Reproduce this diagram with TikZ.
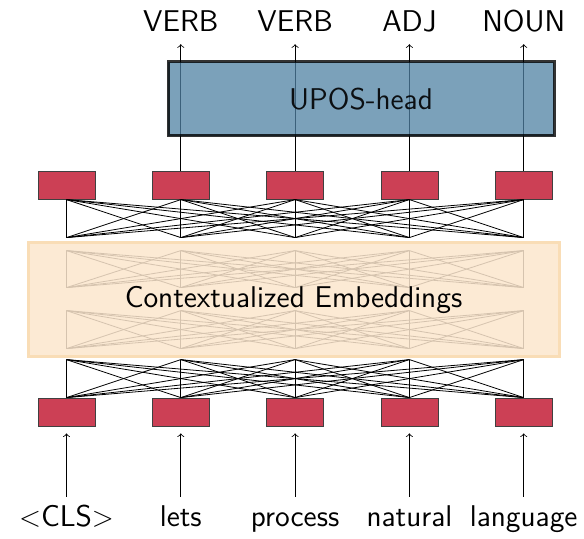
\documentclass[tikz,border=0pt]{standalone}
\usepackage{xcolor}
\usetikzlibrary{positioning}
\definecolor{embred}{RGB}{204,64,85}
\definecolor{headblue}{RGB}{79,129,163}
\definecolor{ctxpeach}{RGB}{251,230,205}
\definecolor{ctxedge}{RGB}{249,221,182}

\begin{document}
\begin{tikzpicture}[x=0.5pt, y=-0.5pt, node distance=28.25pt,
    font=\sffamily\fontsize{15}{18}\selectfont,
    vec/.style={draw=black!75, fill=embred, minimum width=28.5pt, minimum height=14pt, inner sep=0pt},
    word/.style={anchor=base, inner sep=0pt, text height=10pt, text depth=3pt},
    ctx/.style={draw=ctxedge, line width=1.5pt, fill=ctxpeach, fill opacity=0.85, text opacity=1,
                minimum width=265.5pt, minimum height=57pt},
    head/.style={draw=black, draw opacity=0.8, line width=1.5pt, fill=headblue, fill opacity=0.75,
                 text opacity=0.9, minimum width=193pt, minimum height=37pt}]
    \useasboundingbox (0,0) rectangle (584,539);

    % token vectors in and out
    \node[vec] (e1) at (66.5,412) {};
    \node[vec, right=of e1] (e2) {};
    \node[vec, right=of e2] (e3) {};
    \node[vec, right=of e3] (e4) {};
    \node[vec, right=of e4] (e5) {};
    \foreach \i in {1,...,5} {
        \node[vec, above=99pt of e\i] (h\i) {};
        % ends of the layers in between
        \coordinate (lo\i) at ([yshift=19pt]e\i.north);
        \coordinate (mb\i) at ([yshift=24.5pt]e\i.north);
        \coordinate (mc\i) at ([yshift=43.5pt]e\i.north);
        \coordinate (md\i) at ([yshift=-44pt]h\i.south);
        \coordinate (mf\i) at ([yshift=-25.5pt]h\i.south);
        \coordinate (up\i) at ([yshift=-19pt]h\i.south);
    }

    % hidden layers, faded under the box
    \foreach \i in {1,...,5}
        \foreach \j in {1,...,5} {
            \draw (mb\i) -- (mc\j);
            \draw (md\i) -- (mf\j);
        }
    \node[ctx] (ctx) at (293.5,300) {Contextualized Embeddings};

    % first and last layer
    \foreach \i in {1,...,5}
        \foreach \j in {1,...,5} {
            \draw (e\i.north) -- (lo\j);
            \draw (h\i.south) -- (up\j);
        }

    % words
    \node[word] (w1) at ([yshift=-50pt]e1.south) {$<$CLS$>$};
    \node[word] (w2) at ([yshift=-50pt]e2.south) {lets};
    \node[word] (w3) at ([yshift=-50pt]e3.south) {process};
    \node[word] (w4) at ([yshift=-50pt]e4.south) {natural};
    \node[word] (w5) at ([yshift=-50pt]e5.south) {language};
    \foreach \i in {1,...,5}
        \draw[->, shorten <=4.5pt, shorten >=3.5pt] (w\i) -- (e\i);

    % tags
    \node[word, text depth=0pt] (p2) at ([yshift=69.5pt]h2.north) {VERB};
    \node[word, text depth=0pt] (p3) at ([yshift=69.5pt]h3.north) {VERB};
    \node[word, text depth=0pt] (p4) at ([yshift=69.5pt]h4.north) {ADJ};
    \node[word, text depth=0pt] (p5) at ([yshift=69.5pt]h5.north) {NOUN};
    \foreach \i in {2,...,5}
        \draw[->, shorten >=6pt] (h\i.north) -- (p\i.south);

    \node[head] (upos) at (361,99) {UPOS-head};
\end{tikzpicture}
\end{document}
